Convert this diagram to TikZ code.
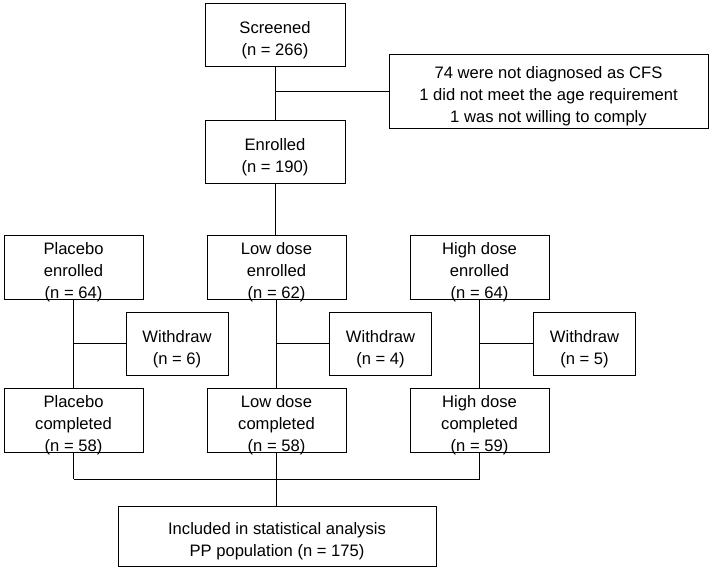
\documentclass[tikz,border=0pt]{standalone}
\usepackage{fontspec}
\setmainfont{Liberation Sans}
\newcommand\tpad{\rule{0pt}{23pt}}
\newcommand\tpadb{\rule{0pt}{18.5pt}}
\begin{document}
\begin{tikzpicture}[x=1pt,y=-1pt,
  box/.style={draw=black,line width=1pt,fill=white,align=center,inner sep=0pt,
    font=\fontsize{16.6}{22}\selectfont},
  tri/.style={box,text depth=0pt,minimum width=139,minimum height=64},
  ln/.style={draw=black,line width=1pt}]
\useasboundingbox (0,0) rectangle (709,570);
\node[box,minimum width=140,minimum height=63] (scr) at (275,34.5) {\tpad Screened\\(n = 266)};
\node[box,minimum width=319,minimum height=74] (exc) at (548.5,91) {\tpad 74 were not diagnosed as CFS\\1 did not meet the age requirement\\1 was not willing to comply};
\node[box,minimum width=140,minimum height=63] (enr) at (275,151.5) {\tpad Enrolled\\(n = 190)};
\node[tri] (pe) at (73.5,267) {\tpadb Placebo\\enrolled\\(n = 64)};
\node[tri] (le) at (276.5,267) {\tpadb Low dose\\enrolled\\(n = 62)};
\node[tri] (he) at (479.5,267) {\tpadb High dose\\enrolled\\(n = 64)};
\node[box,minimum width=102,minimum height=63] (pw) at (177,343.5) {\tpad Withdraw\\(n = 6)};
\node[box,minimum width=102,minimum height=63] (lw) at (380.5,343.5) {\tpad Withdraw\\(n = 4)};
\node[box,minimum width=102,minimum height=63] (hw) at (584.5,343.5) {\tpad Withdraw\\(n = 5)};
\node[tri] (pc) at (73.5,420) {\tpadb Placebo\\completed\\(n = 58)};
\node[tri] (lc) at (276.5,420) {\tpadb Low dose\\completed\\(n = 58)};
\node[tri] (hc) at (479.5,420) {\tpadb High dose\\completed\\(n = 59)};
\node[box,minimum width=318,minimum height=60] (fin) at (277,536) {\tpad Included in statistical analysis\\PP population (n = 175)};
% connectors
\coordinate (j1) at (scr.south |- exc.west);
\draw[ln] (scr.south) -- (enr.north);
\draw[ln] (j1) -- (exc.west);
\draw[ln] (enr.south) -- (enr.south |- le.north);
\foreach \e/\w/\c in {pe/pw/pc,le/lw/lc,he/hw/hc}{
  \draw[ln] (\e.south) -- (\c.north);
  \draw[ln] (\e.south |- \w.west) -- (\w.west);
}
\coordinate (ml) at (73,479);
\coordinate (mr) at (480,479);
\draw[ln] (pc.south) -- (pc.south |- ml);
\draw[ln] (hc.south) -- (hc.south |- mr);
\draw[ln] (lc.south) -- (lc.south |- ml);
\draw[ln] (pc.south |- ml) -- (hc.south |- mr);
\draw[ln] (lc.south |- ml) -- (fin.north -| lc.south);
\end{tikzpicture}
\end{document}
